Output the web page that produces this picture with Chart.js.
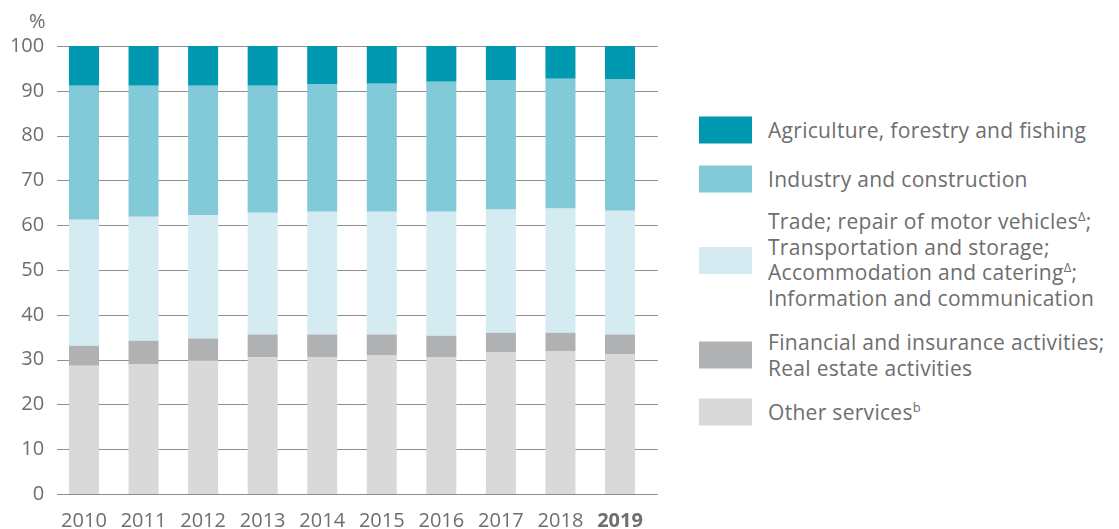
<!DOCTYPE html>
<html>
<head>
<meta charset="utf-8">
<script src="https://cdn.jsdelivr.net/npm/chart.js@4"></script>
<style>

    body{
        margin:0;
        background:#fff;
        font-family:"Open Sans", sans-serif;
        color:#6e6e6e;
    }

    #pagina{
        position:relative;
        width:1119px;
        height:529px;
    }

    #contenedor{
        position:absolute;
        left:0;
        top:0;
        width:670px;
        height:529px;
    }

    #unidad{
        position:absolute;
        left:29px;
        top:7px;
        font-size:20px;
    }

    .item{
        position:absolute;
        left:699px;
        display:flex;
        align-items:center;
        transform:translateY(-50%);
    }

    .cuadro{
        width:53px;
        height:27px;
        flex:none;
    }

    .texto{
        margin-left:16px;
        font-size:21px;
        letter-spacing:0.3px;
        line-height:25.5px;
        white-space:nowrap;
    }

    .texto sup{
        font-size:13px;
        line-height:0;
        vertical-align:8px;
    }

</style>
</head>
<body>

<div id="pagina">
    <div id="contenedor"><canvas id="grafica"></canvas></div>
    <div id="unidad">%</div>
    <div id="leyenda"></div>
</div>

<script>

// ===============================
// DATOS
// ===============================

const years = ["2010", "2011", "2012", "2013", "2014", "2015", "2016", "2017", "2018", "2019"];

const otherServices = [28.6, 28.9, 29.8, 30.5, 30.6, 30.9, 30.6, 31.6, 31.8, 31.2];
const financial     = [4.5, 5.3, 4.9, 5.1, 5.0, 4.7, 4.7, 4.4, 4.2, 4.4];
const trade         = [28.1, 27.7, 27.6, 27.2, 27.4, 27.4, 27.7, 27.5, 27.7, 27.6];
const industry      = [29.9, 29.2, 28.8, 28.3, 28.4, 28.6, 29.0, 28.8, 29.0, 29.3];
const agriculture   = [8.9, 8.9, 8.9, 8.9, 8.6, 8.4, 8.0, 7.7, 7.3, 7.5];

const yTicks = [0, 10, 20, 30, 40, 50, 60, 70, 80, 90, 100];

const seriesNames = [
    "Other services",
    "Financial and insurance activities; Real estate activities",
    "Trade; repair of motor vehicles; Transportation and storage; Accommodation and catering; Information and communication",
    "Industry and construction",
    "Agriculture, forestry and fishing"
];

const seriesColors = ["#d9d9d9", "#b0b1b3", "#d5ebf2", "#82cad7", "#0099b1"];

// legend text, top to bottom
const legendLines = [
    ["Agriculture, forestry and fishing"],
    ["Industry and construction"],
    ["Trade; repair of motor vehicles<sup>Δ</sup>;", "Transportation and storage;", "Accommodation and catering<sup>Δ</sup>;", "Information and communication"],
    ["Financial and insurance activities;", "Real estate activities"],
    ["Other services<sup>b</sup>"]
];

const legendCenters = [130, 179, 260, 355, 412];


// ===============================
// LÍNEAS DE CUADRÍCULA
// (un poco más anchas que el área de barras)
// ===============================

const cuadricula = {

    id: "cuadricula",

    beforeDatasetsDraw(chart) {

        const ctx = chart.ctx;
        const area = chart.chartArea;
        const y = chart.scales.y;

        ctx.save();
        ctx.strokeStyle = "#8f8f8f";
        ctx.lineWidth = 1;

        yTicks.forEach(v => {

            const py = Math.round(y.getPixelForValue(v)) + 0.5;

            ctx.beginPath();
            ctx.moveTo(area.left + 3, py);
            ctx.lineTo(area.right + 8, py);
            ctx.stroke();

        });

        ctx.restore();

    }

};


// ===============================
// GRÁFICA
// ===============================

const seriesValues = [otherServices, financial, trade, industry, agriculture];

const textColor = "#6e6e6e";

new Chart(document.getElementById("grafica"), {

    type: "bar",

    data: {

        labels: years,

        datasets: seriesValues.map((valores, i) => ({
            label: seriesNames[i],
            data: valores,
            backgroundColor: seriesColors[i],
            borderWidth: 0,
            barPercentage: 1,
            categoryPercentage: 0.504
        }))

    },

    options: {

        responsive: true,
        maintainAspectRatio: false,
        animation: false,

        layout: {
            padding: { top: 46, right: 20.2, left: 0, bottom: 0 }
        },

        plugins: {
            legend: { display: false },
            tooltip: { enabled: false }
        },

        scales: {

            x: {
                stacked: true,
                afterFit: (scale) => {
                    scale.height = 35;
                },
                grid: { display: false },
                border: { display: false },
                ticks: {
                    padding: 7,
                    color: textColor,
                    maxRotation: 0,
                    autoSkip: false,
                    font: (ctx) => ({
                        family: "Open Sans",
                        size: 20,
                        weight: ctx.index === years.length - 1 ? "bold" : "normal"
                    })
                }
            },

            y: {
                stacked: true,
                min: 0,
                max: 100,
                afterBuildTicks: (scale) => {
                    scale.ticks = yTicks.map(v => ({ value: v }));
                },
                afterFit: (scale) => {
                    scale.width = 54.2;
                },
                grid: {
                    display: false,
                    drawTicks: false
                },
                border: { display: false },
                ticks: {
                    padding: 10,
                    color: textColor,
                    font: { family: "Open Sans", size: 20 }
                }
            }

        }

    },

    plugins: [cuadricula]

});


// ===============================
// LEYENDA
// ===============================

const leyenda = document.getElementById("leyenda");

legendLines.forEach((lineas, i) => {

    const color = seriesColors[seriesColors.length - 1 - i];

    const item = document.createElement("div");
    item.className = "item";
    item.style.top = legendCenters[i] + "px";

    item.innerHTML =
        '<div class="cuadro" style="background:' + color + '"></div>' +
        '<div class="texto">' + lineas.join("<br>") + '</div>';

    leyenda.appendChild(item);

});

</script>

</body>
</html>
